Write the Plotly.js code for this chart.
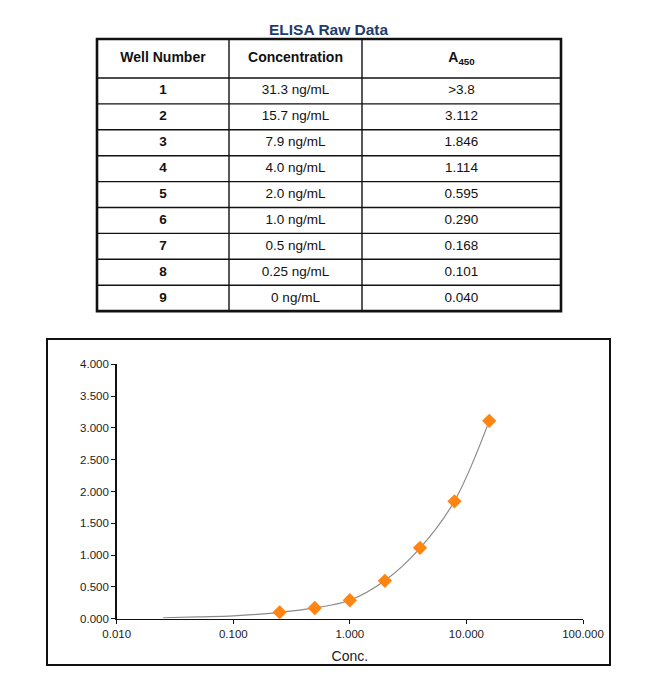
<!DOCTYPE html>
<html>
<head>
<meta charset="utf-8">
<script src="https://cdn.plot.ly/plotly-3.0.1.min.js"></script>
<style>html,body{margin:0;padding:0;background:#fff;}#chart{width:650px;height:677px;}</style>
</head>
<body>
<div id="chart"></div>
<script>
// ---- data ----
var tableTitle = "ELISA Raw Data";
var headers = ["<b>Well Number</b>", "<b>Concentration</b>", "<b>A<sub>450</sub></b>"];
var wells = ["1", "2", "3", "4", "5", "6", "7", "8", "9"];
var concLabels = ["31.3 ng/mL", "15.7 ng/mL", "7.9 ng/mL", "4.0 ng/mL", "2.0 ng/mL", "1.0 ng/mL", "0.5 ng/mL", "0.25 ng/mL", "0 ng/mL"];
var absLabels = [">3.8", "3.112", "1.846", "1.114", "0.595", "0.290", "0.168", "0.101", "0.040"];

var conc = [15.7, 7.9, 4.0, 2.0, 1.0, 0.5, 0.25];
var a450 = [3.112, 1.846, 1.114, 0.595, 0.290, 0.168, 0.101];

// fitted curve
var fitX = [0.025, 0.05, 0.1, 0.25, 0.5, 1.0, 2.0, 4.0, 7.9, 15.7];
var fitY = [0.015, 0.03, 0.045, 0.10, 0.17, 0.29, 0.60, 1.11, 1.85, 3.11];

var xTickVals = [0.01, 0.1, 1, 10, 100];
var xTickText = ["0.010", "0.100", "1.000", "10.000", "100.000"];

// ---- layout (table geometry in pixel units of a hidden axis pair) ----
var W = 650, H = 677;
function px(x) { return x / W; }
function py(y) { return 1 - y / H; }
var font = "Liberation Sans, Arial, Helvetica, sans-serif";

var colEdges = [97, 229, 362, 561];
var tabTop = 39, headBottom = 78, rowH = 25.9;
var nRows = wells.length;
var tabBottom = headBottom + rowH * nRows;

function colCenter(c) { return (colEdges[c] + colEdges[c + 1]) / 2; }
function rowCenter(r) { return headBottom + rowH * (r + 0.5); }

var headerTrace = {
  type: "scatter", mode: "text", xaxis: "x2", yaxis: "y2",
  x: headers.map(function (_, c) { return colCenter(c); }),
  y: headers.map(function () { return (tabTop + headBottom) / 2; }),
  text: headers,
  textposition: "middle center",
  textfont: { family: font, size: 14, color: "#111" },
  hoverinfo: "skip", showlegend: false, cliponaxis: false
};
function colTrace(labels, c, bold) {
  return {
    type: "scatter", mode: "text", xaxis: "x2", yaxis: "y2",
    x: labels.map(function () { return colCenter(c); }),
    y: labels.map(function (_, r) { return rowCenter(r); }),
    text: labels.map(function (t) { return bold ? "<b>" + t + "</b>" : t; }),
    textposition: "middle center",
    textfont: { family: font, size: 13.5, color: "#111" },
    hoverinfo: "skip", showlegend: false, cliponaxis: false
  };
}

var shapes = [];
// inner horizontal lines
for (var r = 0; r < nRows; r++) {
  var yy = headBottom + rowH * r;
  shapes.push({ type: "line", xref: "x2", yref: "y2", x0: colEdges[0], x1: colEdges[3], y0: yy, y1: yy,
    line: { color: "#111", width: 1.4 } });
}
// inner vertical lines
[1, 2].forEach(function (c) {
  shapes.push({ type: "line", xref: "x2", yref: "y2", x0: colEdges[c], x1: colEdges[c], y0: tabTop, y1: tabBottom,
    line: { color: "#111", width: 1.4 } });
});
// outer table border
shapes.push({ type: "rect", xref: "x2", yref: "y2", x0: colEdges[0], x1: colEdges[3], y0: tabTop, y1: tabBottom,
  line: { color: "#111", width: 2.6 } });
// chart border
shapes.push({ type: "rect", xref: "paper", yref: "paper", x0: px(47), x1: px(610), y0: py(665), y1: py(339),
  line: { color: "#111", width: 2 } });

var traces = [
  headerTrace,
  colTrace(wells, 0, true),
  colTrace(concLabels, 1, false),
  colTrace(absLabels, 2, false),
  {
    type: "scatter", mode: "lines", x: fitX, y: fitY,
    line: { color: "#8a8a8a", width: 1.2, shape: "spline" },
    hoverinfo: "skip", showlegend: false
  },
  {
    type: "scatter", mode: "markers", x: conc, y: a450,
    marker: { symbol: "diamond", size: 11, color: "#FF8412", line: { width: 0 } },
    showlegend: false
  }
];

var layout = {
  width: W, height: H,
  margin: { l: 0, r: 0, t: 0, b: 0 },
  paper_bgcolor: "#fff",
  plot_bgcolor: "rgba(0,0,0,0)",
  showlegend: false,
  font: { family: font, size: 11, color: "#222" },
  xaxis: {
    type: "log",
    domain: [px(116.7), px(583)],
    range: [-2, 2],
    tickvals: xTickVals, ticktext: xTickText,
    ticks: "outside", ticklen: 4, tickwidth: 1, tickcolor: "#111",
    showline: true, linecolor: "#111", linewidth: 1.5,
    showgrid: false, zeroline: false, anchor: "y",
    tickfont: { family: font, size: 11.5, color: "#222" },
    title: { text: "Conc.", font: { family: font, size: 14, color: "#222" }, standoff: 12 }
  },
  yaxis: {
    domain: [py(618.7), py(364.3)],
    range: [0, 4], dtick: 0.5, tick0: 0, tickformat: ".3f",
    ticks: "outside", ticklen: 4, tickwidth: 1, tickcolor: "#111",
    showline: true, linecolor: "#111", linewidth: 1.5,
    showgrid: false, zeroline: false, anchor: "x",
    tickfont: { family: font, size: 11.5, color: "#222" }
  },
  xaxis2: {
    domain: [px(88), px(570)], range: [88, 570], anchor: "y2",
    visible: false, showgrid: false, zeroline: false, fixedrange: true
  },
  yaxis2: {
    domain: [py(318), py(33)], range: [318, 33], anchor: "x2",
    visible: false, showgrid: false, zeroline: false, fixedrange: true
  },
  annotations: [
    {
      text: "<b>" + tableTitle + "</b>",
      xref: "paper", yref: "paper",
      x: px(329), y: py(30),
      xanchor: "center", yanchor: "middle",
      showarrow: false,
      font: { family: font, size: 15.5, color: "#1F3D6B" }
    }
  ],
  shapes: shapes
};

Plotly.newPlot("chart", traces, layout, { displayModeBar: false, staticPlot: true });
</script>
</body>
</html>
